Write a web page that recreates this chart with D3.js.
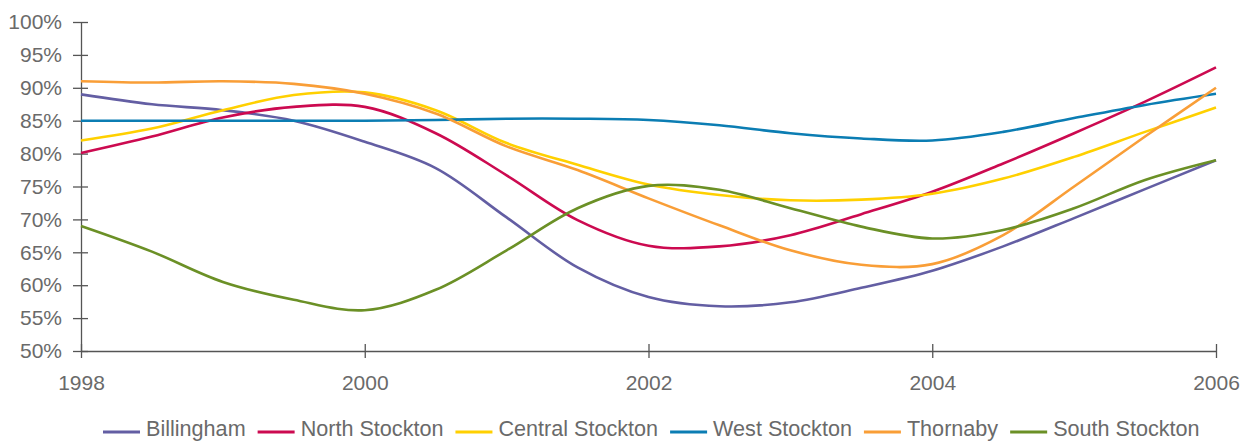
<!DOCTYPE html>
<html>
<head>
<meta charset="utf-8">
<script src="https://cdn.jsdelivr.net/npm/d3@7"></script>
<style>
  body { margin: 0; background: #fff; }
  svg { display: block; font-family: "Liberation Sans", Arial, sans-serif; }
  .axis text { fill: #6a6a6a; font-size: 21px; }
  .axis path, .axis line { stroke: #555; }
  .legend text { fill: #6a6a6a; font-size: 21.6px; }
</style>
</head>
<body>
<div id="chart"></div>
<script>
// half-year readings, 1998 .. 2006
var years = [1998, 1998.5, 1999, 1999.5, 2000, 2000.5, 2001, 2001.5, 2002,
             2002.5, 2003, 2003.5, 2004, 2004.5, 2005, 2005.5, 2006];

var billingham   = [89.0, 87.5, 86.6, 85.0, 81.8, 77.8, 70.3, 62.7, 58.2, 56.8, 57.4, 59.6, 62.2, 65.9, 70.2, 74.6, 79.0];
var northStockton = [80.1, 82.6, 85.5, 87.1, 87.1, 83.1, 76.7, 69.9, 66.0, 65.9, 67.6, 70.8, 74.2, 78.5, 83.1, 87.9, 93.1];
var centralStockton = [82.0, 83.8, 86.6, 88.9, 89.3, 86.6, 81.6, 78.3, 75.3, 73.7, 72.9, 73.0, 73.9, 76.2, 79.5, 83.3, 87.0];
var westStockton = [85.0, 85.0, 85.0, 85.0, 85.0, 85.1, 85.3, 85.3, 85.1, 84.3, 83.1, 82.3, 82.0, 83.3, 85.4, 87.4, 89.1];
var thornaby     = [91.0, 90.8, 91.0, 90.6, 89.1, 86.1, 81.1, 77.5, 73.2, 69.1, 65.3, 63.1, 63.2, 67.6, 75.0, 82.6, 90.0];
var southStockton = [69.0, 65.1, 60.5, 57.8, 56.2, 59.3, 65.3, 71.7, 75.1, 74.5, 71.7, 68.9, 67.1, 68.4, 71.7, 76.0, 79.0];

var seriesNames = ["Billingham", "North Stockton", "Central Stockton", "West Stockton", "Thornaby", "South Stockton"];
var seriesValues = [billingham, northStockton, centralStockton, westStockton, thornaby, southStockton];
var seriesColors = ["#635ea3", "#cc0a50", "#ffd000", "#0b7db3", "#f99e37", "#6b9026"];

var xTicks = [1998, 2000, 2002, 2004, 2006];
var yTicks = [50, 55, 60, 65, 70, 75, 80, 85, 90, 95, 100];

var W = 1250, H = 441;
var margin = { top: 22, right: 34, bottom: 90, left: 81 };
var width = W - margin.left - margin.right;
var height = H - margin.top - margin.bottom;

var svg = d3.select("#chart").append("svg")
  .attr("width", W)
  .attr("height", H);

var g = svg.append("g")
  .attr("transform", "translate(" + margin.left + "," + margin.top + ")");

var x = d3.scaleLinear().domain([1998, 2006]).range([0, width]);
var y = d3.scaleLinear().domain([50, 100]).range([height, 0]);

// y axis, ticks cross the line
var yAxis = g.append("g")
  .attr("class", "axis")
  .call(d3.axisLeft(y).tickValues(yTicks).tickSize(0).tickPadding(19)
    .tickFormat(function(d) { return d + "%"; }));
yAxis.select(".domain").attr("stroke-width", 1.3);
yAxis.selectAll(".tick line").attr("x1", -8).attr("x2", 7).attr("stroke-width", 1.3);

// x axis
var xAxis = g.append("g")
  .attr("class", "axis")
  .attr("transform", "translate(0," + height + ")")
  .call(d3.axisBottom(x).tickValues(xTicks).tickSize(0).tickPadding(24)
    .tickFormat(d3.format("d")));
xAxis.select(".domain").attr("stroke-width", 1.3);
xAxis.selectAll(".tick line").attr("y1", -7).attr("y2", 7).attr("stroke-width", 1.3);

var line = d3.line()
  .x(function(d, i) { return x(years[i]); })
  .y(function(d) { return y(d); })
  .curve(d3.curveCatmullRom.alpha(0.5));

g.selectAll(".series")
  .data(seriesValues)
  .enter()
  .append("path")
  .attr("class", "series")
  .attr("fill", "none")
  .attr("stroke", function(d, i) { return seriesColors[i]; })
  .attr("stroke-width", 2.6)
  .attr("stroke-linejoin", "round")
  .attr("d", line);

// legend along the bottom
var legend = svg.append("g").attr("class", "legend");
var lx = 103, ly = 432;
seriesNames.forEach(function(name, i) {
  legend.append("line")
    .attr("x1", lx).attr("x2", lx + 37)
    .attr("y1", ly).attr("y2", ly)
    .attr("stroke", seriesColors[i])
    .attr("stroke-width", 2.8);
  var t = legend.append("text")
    .attr("x", lx + 43)
    .attr("y", 436)
    .text(name);
  lx += 43 + t.node().getComputedTextLength() + 12;
});
</script>
</body>
</html>
